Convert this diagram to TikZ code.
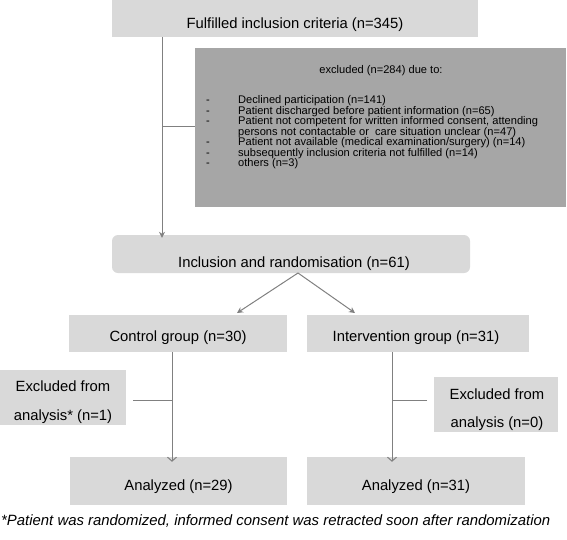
\documentclass[tikz,border=0pt]{standalone}
\usepackage{fontspec}
\setmainfont{Liberation Sans}
\usetikzlibrary{arrows.meta}
\definecolor{boxlight}{HTML}{D9D9D9}
\definecolor{boxdark}{HTML}{A6A6A6}
\definecolor{linegray}{HTML}{808080}
\tikzset{
  lbox/.style={fill=boxlight, draw=none, inner sep=0pt},
  btext/.style={anchor=base, inner sep=0pt, font=\fontsize{14.8}{17}\selectfont},
  conn/.style={draw=linegray, line width=1pt},
  arrf/.style={conn, -{Stealth[length=6pt,width=6pt]}},
  arro/.style={conn, -{Straight Barb[length=4pt,width=9pt]}},
}
\begin{document}
\begin{tikzpicture}[x=1pt,y=-1pt]
\useasboundingbox (0,0) rectangle (567,539);
% boxes
\node[lbox, minimum width=366pt, minimum height=37pt] (top) at (295,18.5) {};
\node[btext] (topt) at (295,28) {Fulfilled inclusion criteria (n=345)};
\node[fill=boxdark, inner sep=0pt, minimum width=371pt, minimum height=159pt] (excl) at (380.5,127.5) {};
\node[anchor=base, inner sep=0pt, font=\fontsize{11.1}{13}\selectfont] (exhead) at (381,73.5) {excluded (n=284) due to:};
\node[anchor=west, align=left, inner sep=0pt, font=\fontsize{11.1}{10.5}\selectfont] (exlist) at (206,132.5) {%
\makebox[32pt][l]{-}Declined participation (n=141)\\
\makebox[32pt][l]{-}Patient discharged before patient information (n=65)\\
\makebox[32pt][l]{-}Patient not competent for written informed consent, attending\\
\hspace*{32pt}persons not contactable or\ \ care situation unclear (n=47)\\
\makebox[32pt][l]{-}Patient not available (medical examination/surgery) (n=14)\\
\makebox[32pt][l]{-}subsequently inclusion criteria not fulfilled (n=14)\\
\makebox[32pt][l]{-}others (n=3)};
\node[lbox, rounded corners=6pt, minimum width=358pt, minimum height=38pt] (incl) at (291,254) {};
\node[btext] (inclt) at (294,267) {Inclusion and randomisation (n=61)};
\node[lbox, minimum width=218pt, minimum height=37pt] (ctrl) at (178,333.5) {};
\node[btext] (ctrlt) at (178,341.5) {Control group (n=30)};
\node[lbox, minimum width=222pt, minimum height=37pt] (intv) at (418,333.5) {};
\node[btext] (intvt) at (416,341.5) {Intervention group (n=31)};
\node[lbox, minimum width=126pt, minimum height=55pt] (exL) at (63,397.5) {};
\node[btext] (exLa) at (63,391.5) {Excluded from};
\node[btext] (exLb) at (63,420) {analysis* (n=1)};
\node[lbox, minimum width=124pt, minimum height=55pt] (exR) at (496,404.5) {};
\node[btext] (exRa) at (497,399) {Excluded from};
\node[btext] (exRb) at (497,427) {analysis (n=0)};
\node[lbox, minimum width=217pt, minimum height=48pt] (anL) at (178.5,481) {};
\node[btext] (anLt) at (178.5,490) {Analyzed (n=29)};
\node[lbox, minimum width=218pt, minimum height=48pt] (anR) at (416,481) {};
\node[btext] (anRt) at (416,490) {Analyzed (n=31)};
\node[anchor=base west, inner sep=0pt, font=\fontsize{14.9}{17}\selectfont\itshape] (foot) at (1,525) {*Patient was randomized, informed consent was retracted soon after randomization};
% helper coordinates
\coordinate (v1) at (162,126);
\coordinate (sp) at (298,273);
\coordinate (tL) at (237,313);
\coordinate (tR) at (355,313);
\coordinate (vL) at (172,0);
\coordinate (vR) at (392,0);
\coordinate (hL) at (133,400);
\coordinate (hR) at (427,400);
% connectors
\draw[arrf] (top.south -| v1) -- ([yshift=-3pt]incl.north -| v1);
\draw[conn] (v1) -- (v1 -| excl.west);
\draw[arrf] (sp) -- (tL);
\draw[arrf] (sp) -- (tR);
\draw[arro] (ctrl.south -| vL) -- ([yshift=-5pt]anL.north -| vL);
\draw[arro] (intv.south -| vR) -- ([yshift=-5pt]anR.north -| vR);
\draw[conn] (hL) -- (hL -| vL);
\draw[conn] (hR) -- (hR -| vR);
\end{tikzpicture}
\end{document}
